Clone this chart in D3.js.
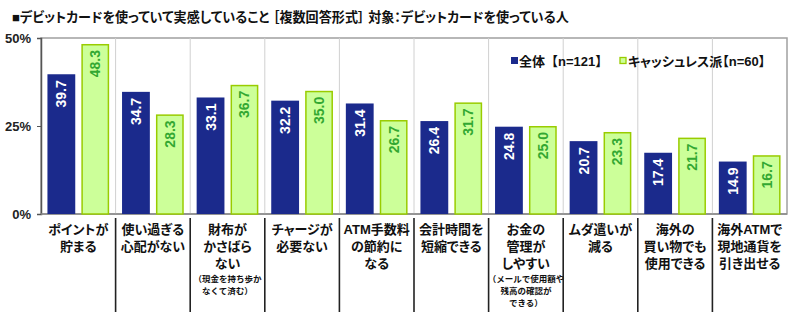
<!DOCTYPE html>
<html><head><meta charset="utf-8">
<script src="https://cdn.jsdelivr.net/npm/d3@7"></script>
<style>
body{margin:0;background:#fff;}
svg{display:block;}
.jp{font-feature-settings:"palt";}
</style></head>
<body>
<svg id="chart" width="800" height="323"></svg>
<script>
const title = "■デビットカードを使っていて実感していること ［複数回答形式］ 対象：デビットカードを使っている人";
const categories = [
  ["ポイントが","貯まる"],
  ["使い過ぎる","心配がない"],
  ["財布が","かさばら","ない"],
  ["チャージが","必要ない"],
  ["ATM手数料","の節約に","なる"],
  ["会計時間を","短縮できる"],
  ["お金の","管理が","しやすい"],
  ["ムダ遣いが","減る"],
  ["海外の","買い物でも","使用できる"],
  ["海外ATMで","現地通貨を","引き出せる"]
];
const notes = [[],[],["（現金を持ち歩か","なくて済む）"],[],[],[],["（メールで使用額や","残高の確認が","できる）"],[],[],[]];
const seriesNames = ["全体【n=121】","キャッシュレス派【n=60】"];
const allValues = [39.7,34.7,33.1,32.2,31.4,26.4,24.8,20.7,17.4,14.9];
const cashlessValues = [48.3,28.3,36.7,35.0,26.7,31.7,25.0,23.3,21.7,16.7];
const yTicks = [0,25,50];

const svg = d3.select("#chart");
const L=41, R=787, T=38, B=214;
const jpFont = "'Liberation Sans','Noto Sans CJK JP',sans-serif";
const numFont = "'Liberation Sans',Arial,'Noto Sans CJK JP',sans-serif";
const blue = "#1b2a8c", greenFill = "#ccff99", greenStroke = "#99cc00", greenText = "#33a832";

const x = d3.scaleBand().domain(d3.range(categories.length)).range([L,R]).padding(0);
const xs = d3.scaleBand().domain([0,1]).range([0,x.bandwidth()]).paddingInner(0.18).paddingOuter(0.19);
const y = d3.scaleLinear().domain([0,50]).range([B,T]);

// title
svg.append("text").attr("class","jp").attr("x",12).attr("y",22).attr("font-family",jpFont).attr("font-weight","bold")
  .attr("font-size",13.1).attr("fill","#111").text(title);

// frame
svg.append("rect").attr("x",L).attr("y",T).attr("width",R-L).attr("height",B-T)
  .attr("fill","none").attr("stroke","#a0a0a0").attr("stroke-width",1.5);

// vertical grid lines
svg.append("g").selectAll("line").data(d3.range(1,categories.length)).join("line")
  .attr("x1",d=>x(d)).attr("x2",d=>x(d)).attr("y1",T).attr("y2",B)
  .attr("stroke","#d0d0d0").attr("stroke-width",1);

// y axis
const yAxis = d3.axisLeft(y).tickValues(yTicks).tickFormat(d=>d+"%").tickSize(4).tickPadding(6);
const ya = svg.append("g").attr("transform",`translate(${L},0)`).call(yAxis);
ya.select(".domain").attr("stroke","#555").attr("stroke-width",1.5);
ya.selectAll(".tick line").attr("stroke","#555");
ya.selectAll("text").attr("font-family",numFont).attr("font-weight","bold").attr("font-size",13).attr("fill","#222");
// bottom axis line
svg.append("line").attr("x1",L).attr("x2",R).attr("y1",B).attr("y2",B).attr("stroke","#888").attr("stroke-width",1.5);

// bars
const groups = svg.append("g").selectAll("g").data(categories.map((c,i)=>i)).join("g")
  .attr("transform",i=>`translate(${x(i)},0)`);
groups.append("rect").attr("x",xs(0)).attr("width",xs.bandwidth())
  .attr("y",i=>y(allValues[i])).attr("height",i=>B-y(allValues[i])).attr("fill",blue);
groups.append("rect").attr("x",xs(1)+0.75).attr("width",xs.bandwidth()-1.5)
  .attr("y",i=>y(cashlessValues[i])+0.75).attr("height",i=>B-y(cashlessValues[i])-0.75)
  .attr("fill",greenFill).attr("stroke",greenStroke).attr("stroke-width",1.5);

// value labels
groups.append("text")
  .attr("transform",i=>`translate(${xs(0)+xs.bandwidth()/2+5},${y(allValues[i])+6}) rotate(-90)`)
  .attr("text-anchor","end").attr("font-family",numFont).attr("font-weight","bold").attr("font-size",14)
  .attr("fill","#fff").text(i=>allValues[i].toFixed(1));
groups.append("text")
  .attr("transform",i=>`translate(${xs(1)+xs.bandwidth()/2+5},${y(cashlessValues[i])+6}) rotate(-90)`)
  .attr("text-anchor","end").attr("font-family",numFont).attr("font-weight","bold").attr("font-size",14)
  .attr("fill",greenText).text(i=>cashlessValues[i].toFixed(1));

// separators below axis
svg.append("g").selectAll("line").data(d3.range(1,categories.length)).join("line")
  .attr("x1",d=>x(d)).attr("x2",d=>x(d)).attr("y1",B+4).attr("y2",312)
  .attr("stroke","#222").attr("stroke-width",1.6);

// category labels
groups.each(function(i){
  const g = d3.select(this);
  const cx = x.bandwidth()/2;
  categories[i].forEach((ln,k)=>{
    g.append("text").attr("class","jp").attr("x",cx).attr("y",234+k*17).attr("text-anchor","middle")
      .attr("font-family",jpFont).attr("font-weight","bold").attr("font-size",13).attr("fill","#111").text(ln);
  });
  const base = 234+(categories[i].length-1)*17;
  notes[i].forEach((ln,k)=>{
    g.append("text").attr("x",cx).attr("y",base+14+k*12).attr("text-anchor","middle")
      .attr("font-family",jpFont).attr("font-weight","bold").attr("font-size",8.5).attr("fill","#111").text(ln);
  });
});

// legend
const leg = svg.append("g");
leg.append("rect").attr("x",511).attr("y",57).attr("width",7).attr("height",7).attr("fill",blue);
leg.append("text").attr("x",519).attr("y",66).attr("font-family",jpFont).attr("font-weight","bold").attr("font-size",13).attr("fill","#111").text(seriesNames[0]);
leg.append("rect").attr("x",620).attr("y",57.5).attr("width",6).attr("height",6).attr("fill",greenFill).attr("stroke",greenStroke).attr("stroke-width",1.3);
leg.append("text").attr("class","jp").attr("x",628).attr("y",66).attr("font-family",jpFont).attr("font-weight","bold").attr("font-size",13).attr("fill","#111").text(seriesNames[1]);
</script>
</body></html>
